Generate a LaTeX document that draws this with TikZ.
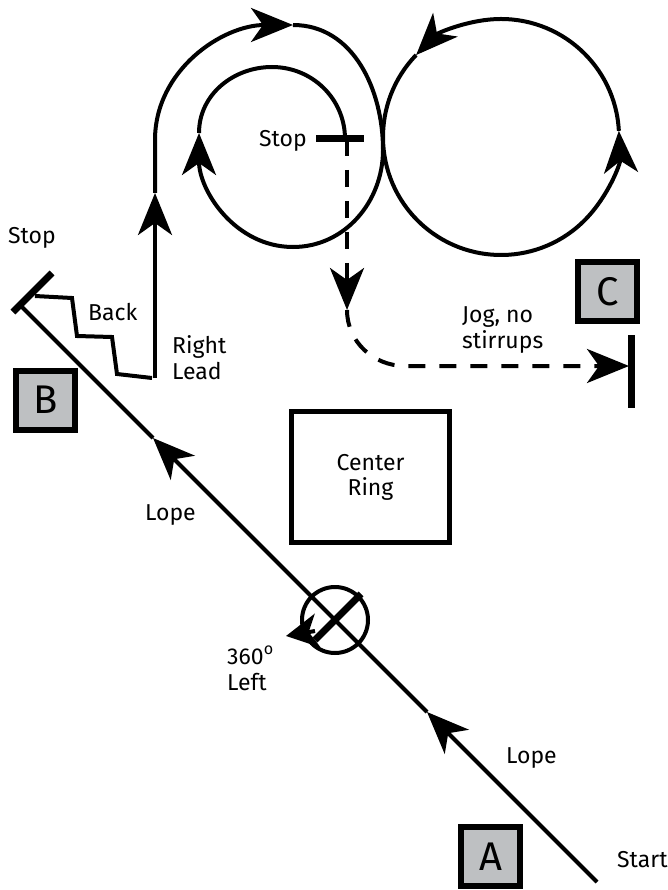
\documentclass[tikz,border=0pt]{standalone}
\usepackage{fontspec}
\setmainfont{Fira Sans}
\usepackage{tikz}
\usetikzlibrary{
	arrows.meta,
	positioning,
	calc
}
\definecolor{boxgray}{RGB}{190,192,194}
\tikzset{
  % arrow
	cstra/.style      ={-{Stealth[length=42pt,width=34pt,inset=12pt]}}, % big arrow
	cstsra/.style     ={-{Stealth[length=32pt,width=34pt,inset=9pt]}},  % small arrow
  % curve
	cstcurve/.style   ={line width=4pt},
	cstdash/.style    ={line width=4pt, dash pattern=on 17pt off 14pt},
	cstbar/.style     ={line width=7pt},
  % node
	cstnode/.style    ={draw=black,line width=6pt,fill=boxgray,minimum size=59pt,inner sep=0pt,font=\fontsize{40}{40}\selectfont},
	cstring/.style    ={draw=black,line width=4.5pt,minimum width=158pt,minimum height=131pt,align=center,font=\fontsize{23}{25}\selectfont},
	csttext/.style    ={inner sep=0pt,align=left,font=\fontsize{23}{26}\selectfont}
}

\begin{document}
\begin{tikzpicture}[x=1pt,y=-1pt]
	\useasboundingbox (0,0) rectangle (668,890);
	% markers
	\node[cstnode] (A) at (490.5,856.5) {A};
	\node[cstnode] (B) at (45.5,400) {B};
	\node[cstnode] (C) at (607.5,291.5) {C};
	\node[cstring] (ring) at (370.5,477) {Center\\Ring};
	% A to B
	\coordinate (start) at (597,882);
	\coordinate (lope1) at (427,712);
	\coordinate (lope2) at (153,438);
	\coordinate (stopB) at (20,305);
	\coordinate (spin) at (335,620);
	\draw[cstcurve,cstra] (start) -- (lope1);
	\draw[cstcurve,cstra] (lope1) -- (lope2);
	\draw[cstcurve] (lope2) -- (stopB);
	\draw[cstbar] (13,312) -- (52,273);
	\draw[cstcurve] (spin) circle (33);
	\draw[cstbar] ($(spin)+(26,-26)$) -- ($(spin)+(-20,20)$);
	\draw[cstcurve,cstsra] ($(spin)+(-20,11)$) -- ($(spin)+(-49,16)$);
	% back up
	\coordinate (lead) at (155,378);
	\draw[cstcurve] (35,296) -- (72,298) -- (77,336) -- (112,337) -- (117,374) -- (152,378);
	% figure eight
	\coordinate (ring2) at (501,137);
	\coordinate (stopE) at (345,139);
	\draw[cstcurve,cstra] (lead) -- (155,193);
	\draw[cstcurve,cstra] (155,193) -- (155,140) to[out=90,in=180] (293,25);
	\draw[cstcurve,cstra] (293,25) to[out=0,in=90] (383,150) to[out=-90,in=0] (293,247) to[out=180,in=-90] (199,133);
	\draw[cstcurve] (199,133) to[out=90,in=180] (272,67) to[out=0,in=90] (stopE);
	\draw[cstcurve,cstra] ($(ring2)+(-136:118)$) arc[start angle=-136,end angle=-363,radius=118];
	\draw[cstcurve,cstra] ($(ring2)+(-3:118)$) arc[start angle=-3,end angle=-136,radius=118];
	\draw[cstbar] (316,139) -- (364,139);
	% jog to C
	\coordinate (stopC) at (629,366);
	\draw[cstdash,cstra] (347,139) -- (347,310);
	\draw[cstdash,cstra] (347,310) to[out=-90,in=180] (405,366) -- (stopC);
	\draw[cstbar] (631,335) -- (631,408);
	% labels
	\node[csttext,anchor=base west] at (8,244) {Stop};
	\node[csttext,anchor=base west] at (88,320) {Back};
	\node[csttext,anchor=base west] at (172,379) {Right\\Lead};
	\node[csttext,anchor=base west] at (259,147) {Stop};
	\node[csttext,anchor=base west] at (462,348) {Jog, no\\stirrups};
	\node[csttext,anchor=base west] at (145,520) {Lope};
	\node[csttext,anchor=base west] at (227,690) {360\textsuperscript{o}\\Left};
	\node[csttext,anchor=base west] at (506,763) {Lope};
	\node[csttext,anchor=base west] at (617,867) {Start};
\end{tikzpicture}
\end{document}
